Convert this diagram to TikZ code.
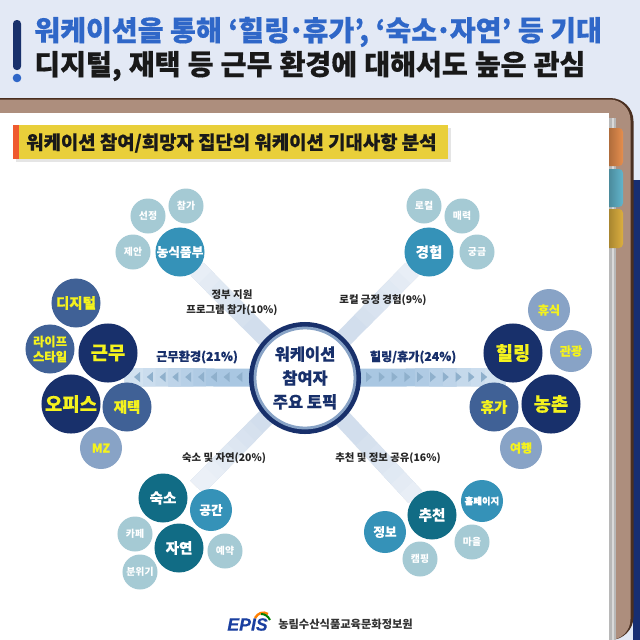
\documentclass[tikz,border=0pt]{standalone}
\usepackage{fontspec}
\usepackage{tikz}
\usetikzlibrary{calc,backgrounds}
\newfontfamily\krfont{Noto Sans CJK KR}[BoldFeatures={FakeBold=0.35}]
\newfontfamily\krplain{Noto Sans CJK KR}
\newfontfamily\logofont{Liberation Sans}[BoldItalicFeatures={FakeBold=0.3}]
\definecolor{bgblue}{HTML}{E3E9F5}
\definecolor{titleblue}{HTML}{2F67C8}
\definecolor{navy}{HTML}{18306B}
\definecolor{midnavy}{HTML}{406196}
\definecolor{softnavy}{HTML}{88A3C6}
\definecolor{tealdark}{HTML}{116C85}
\definecolor{tealmid}{HTML}{3592B8}
\definecolor{teallight}{HTML}{A5CAD4}
\definecolor{board}{HTML}{AD8E7D}
\definecolor{boardedge}{HTML}{4A2F20}
\definecolor{labelyellow}{HTML}{F4F21E}
\definecolor{bannerfill}{HTML}{E9CF3A}
\definecolor{bannerside}{HTML}{EF5A2F}
\definecolor{bandlight}{HTML}{D2DEED}
\definecolor{bandmid}{HTML}{A9C7E2}
\definecolor{tipblue}{HTML}{8FB0CC}
\definecolor{taborange}{HTML}{E68E4E}
\definecolor{tabteal}{HTML}{62B5CC}
\definecolor{tabyellow}{HTML}{DCAF3F}
\definecolor{logoblue}{HTML}{1A3FA0}
\newcommand{\kfont}[1]{\krfont\bfseries\fontsize{#1}{#1}\selectfont}
\newcommand{\lfont}[1]{\krplain\bfseries\fontsize{#1}{#1}\selectfont}
\tikzset{
	bub/.style={circle,inner sep=-5pt,text=white,align=center},
	bigc/.style={bub,minimum size=1.475cm},
	medc/.style={bub,minimum size=1.225cm},
	mzc/.style={bub,minimum size=1.05cm},
	smlc/.style={bub,minimum size=0.875cm,fill=teallight,font=\lfont{7}},
	workbig/.style={bigc,fill=navy,text=labelyellow,font=\kfont{13.4}},
	workmed/.style={medc,fill=midnavy,text=labelyellow,font=\kfont{10.3}},
	worksml/.style={mzc,fill=softnavy,text=labelyellow,font=\kfont{8.6}},
	tealbig/.style={medc,fill=tealdark,font=\kfont{10.3}},
	tealmed/.style={medc,fill=tealmid,font=\kfont{10.3}},
	tealsml/.style={mzc,fill=tealmid,font=\kfont{9}},
	topiclabel/.style={text=black!85,inner sep=0pt,align=center,font=\lfont{7.4}},
	worklabel/.style={text=navy,inner sep=0pt,font=\kfont{8.7}},
	bandline/.style={line width=0.45cm},
	tabshade/.style={rounded corners=0.1cm,left color=#1!70!black,middle color=#1,right color=#1},
}
\begin{document}
\begin{tikzpicture}[x=0.025cm,y=-0.025cm]
		\useasboundingbox (0,0) rectangle (640,640);
		%Title
		\node[anchor=west,inner sep=0pt,text=titleblue,font=\kfont{20}] (title1) at (34,32) {워케이션을 통해 ‘힐링\kern-1.6pt·\kern-1.6pt 휴가’, ‘숙소\kern-1.6pt·\kern-1.6pt 자연’ 등 기대};
		\node[anchor=west,inner sep=0pt,text=black!90,font=\kfont{20}] (title2) at (34,66) {\spaceskip=5.05pt\relax 디지털, 재택 등 근무 환경에 대해서도 높은 관심};
		\node[anchor=west,inner sep=0pt,text=black!90,font=\kfont{13.4}] (subtitle) at (26,143) {워케이션 참여/희망자 집단의 워케이션 기대사항 분석};
		%Centre
		\node[circle,fill=navy,minimum size=2.8cm,inner sep=0pt] (ring) at (305,378) {};
		\node[circle,fill=white,draw=softnavy,line width=0.07cm,minimum size=2.5cm,inner sep=-5pt,align=center,text=navy,font=\krfont\bfseries\fontsize{11.7}{17}\selectfont] (topic) at (ring) {워케이션\\참여자\\주요 토픽};
		%Left group
		\node[workbig] (work) at (108,353) {근무};
		\node[workbig] (office) at (71,404) {오피스};
		\node[workmed] (digital) at (76,303) {디지털};
		\node[workmed,font=\krfont\bfseries\fontsize{8.8}{10.8}\selectfont] (life) at (50,349) {라이프\\스타일};
		\node[workmed] (remote) at (127,407) {재택};
		\node[worksml] (mz) at (101,448) {MZ};
		%Right group
		\node[workbig] (heal) at (513,353) {힐링};
		\node[workbig] (farm) at (551,404) {농촌};
		\node[workmed] (holiday) at (494,407) {휴가};
		\node[worksml] (rest) at (549,310) {휴식};
		\node[worksml] (tour) at (571,351) {관광};
		\node[worksml] (trip) at (521,448) {여행};
		%Top groups
		\node[tealmed,font=\kfont{9}] (food) at (180,252) {농식품부};
		\node[smlc] (offer) at (133,252) {제안};
		\node[smlc] (pick) at (148,216) {선정};
		\node[smlc] (join) at (186,206) {참가};
		\node[tealmed] (exper) at (429,252) {경험};
		\node[smlc] (local) at (424,206) {로컬};
		\node[smlc] (charm) at (462,216) {매력};
		\node[smlc] (curious) at (477,252) {궁금};
		%Bottom groups
		\node[tealbig] (stay) at (163,498) {숙소};
		\node[tealbig] (nature) at (179,548) {자연};
		\node[tealsml] (space) at (211,510) {공간};
		\node[smlc] (cafe) at (135,534) {카페};
		\node[smlc] (mood) at (140,572) {분위기};
		\node[smlc] (book) at (225,551) {예약};
		\node[tealbig] (recom) at (432,515) {추천};
		\node[tealsml] (info) at (385,532) {정보};
		\node[tealsml,font=\kfont{6.7}] (home) at (482,501) {홈페이지};
		\node[smlc] (town) at (472,542) {마을};
		\node[smlc] (camp) at (420,559) {캠핑};
		%Labels
		\node[topiclabel,font=\krplain\bfseries\fontsize{7.4}{10.8}\selectfont] (foodtxt) at (232,302.5) {정부 지원\\프로그램 참가(10\%)};
		\node[topiclabel] (expertxt) at (383,300) {로컬 긍정 경험(9\%)};
		\node[topiclabel] (staytxt) at (224,458) {숙소 및 자연(20\%)};
		\node[topiclabel] (recomtxt) at (388,458) {추천 및 정보 공유(16\%)};
		\node[worklabel] (worktxt) at (197,357) {근무환경(21\%)};
		\node[worklabel] (healtxt) at (413,357) {힐링/휴가(24\%)};
		%Footer
		\node[anchor=west,inner sep=0pt,text=black!80,font=\lfont{8}] (agency) at (278,624) {농림수산식품교육문화정보원};
		\node[anchor=east,inner sep=0pt,text=logoblue,font=\logofont\bfseries\itshape\fontsize{12.6}{12.6}\selectfont] (epis) at (268,624.5) {EPIS};
		\draw[orange,line width=0.06cm] (255,618) .. controls (258,613) and (263,611) .. (268,614);
		\draw[green!50!black,line width=0.05cm] (261,614) .. controls (265,614) and (268,616) .. (270,620);
		%Free ends
		\coordinate (stayend) at (197,487);
		\coordinate (workend) at (125,377);
		\coordinate (healend) at (505,377);
		\begin{scope}[on background layer]
			\fill[bgblue] (0,0) rectangle (640,640);
			\fill[navy!95!blue] (633,180) rectangle (640,640);
			\fill[boardedge] (0,98) [rounded corners=0.58cm] -- (633.5,98) -- (633.5,640) [sharp corners] -- (0,640) -- cycle;
			\fill[board] (0,99.5) [rounded corners=0.52cm] -- (630.5,99.5) -- (630.5,640) [sharp corners] -- (0,640) -- cycle;
			\fill[black!28] (609,118) rectangle (616,640);
			\fill[black!15] (612,118) rectangle (614,640);
			\shade[tabshade=taborange] (605,128) rectangle (623,166);
			\shade[tabshade=tabteal] (605,169) rectangle (623,207);
			\shade[tabshade=tabyellow] (605,209) rectangle (623,248);
			\fill[white] (0,113) rectangle (609,640);
			\fill[navy,rounded corners=0.09cm] (13,20) rectangle (21,70);
			\fill[titleblue] (17,78) circle (4.3);
			\fill[black!10] (16,128) rectangle (451,162);
			\fill[bannerfill] (13,125) rectangle (448,159);
			\fill[bannerside] (13,125) rectangle (19,159);
			%Thick bands
			\foreach \m/\t in {100/0,92/0.45,84/0.52,76/0.59,68/0.66,60/0.73,52/0.8,44/0.87}{
				\draw[bandline,bandlight!\m!white]
					($(ring)!\t!(food)$) edge (food)
					($(ring)!\t!(exper)$) edge (exper)
					($(ring)!\t!(stayend)$) edge (stayend)
					($(ring)!\t!(recom)$) edge (recom)
				;
			}
			\foreach \m/\t in {100/0,92/0.55,84/0.62,76/0.69,68/0.76,60/0.83,52/0.9}{
				\draw[bandline,bandmid!\m!white]
					($(ring)!\t!(workend)$) edge (workend)
					($(ring)!\t!(healend)$) edge (healend)
				;
			}
			\foreach \x in {137,149.8,162.6,175.4,188.2,201,213.8,226.6,239.4}{
				\fill[tipblue] (\x-3,377) -- (\x+3,372) -- (\x+3,382) -- cycle;
			}
			\foreach \x in {369,381.8,394.6,407.4,420.2,433,445.8,458.6,471.4,484.2}{
				\fill[tipblue] (\x+3,377) -- (\x-3,372) -- (\x-3,382) -- cycle;
			}
		\end{scope}
	\end{tikzpicture}
\end{document}
